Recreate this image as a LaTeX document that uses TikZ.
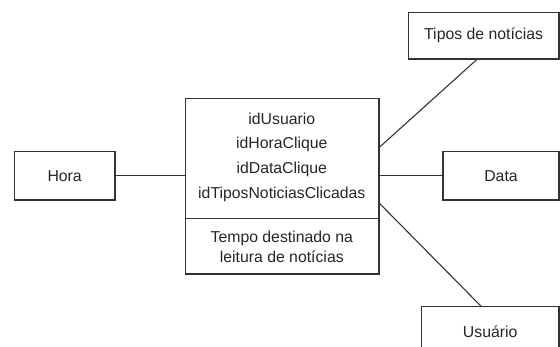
\documentclass[tikz,border=0pt]{standalone}
\usepackage{fontspec}
\setmainfont{Liberation Sans}
\begin{document}
\begin{tikzpicture}[x=1pt,y=-1pt,
  line/.style={draw=black!80,line width=1.1pt},
  entity/.style={line,rectangle,inner sep=0pt,text=black!85,font=\fontsize{15.8}{19.3}\selectfont},
  lbl/.style={inner sep=0pt,text=black!85,font=\fontsize{15.8}{19.3}\selectfont,align=center}]
\useasboundingbox (0,0) rectangle (560,347);
\clip (0,0) rectangle (560,347);

% fact table
\node[entity,minimum width=193.6pt,minimum height=175.3pt] (fact) at (282.2,186.35) {};
\draw[line] ([yshift=55.7pt]fact.south west) coordinate (dl) -- ([yshift=55.7pt]fact.south east) coordinate (dr);
\node[lbl] (k1) at (281.8,119.3) {idUsuario};
\node[lbl] (k2) at (281.8,144.3) {idHoraClique};
\node[lbl] (k3) at (281.8,169.3) {idDataClique};
\node[lbl] (k4) at (281.8,194.0) {idTiposNoticiasClicadas};
\node[lbl] (m1) at (281.8,247.0) {Tempo destinado na\\leitura de notícias};

% dimensions
\node[entity,minimum width=100.7pt,minimum height=48.3pt] (hora) at (64.65,175.85) {Hora};
\node[entity,minimum width=116pt,minimum height=48.3pt] (data) at (501,175.85) {Data};
\node[entity,minimum width=150.8pt,minimum height=46.7pt] (tipos) at (483.6,35.65) {Tipos de notícias};
\node[entity,minimum width=137.6pt,minimum height=50pt] (usuario) at (490.2,331.7) {Usuário};

% connectors
\draw[line] (hora.east) -- (hora.east -| fact.west);
\draw[line] (data.west -| fact.east) -- (data.west);
\draw[line] ([yshift=-49pt]fact.north east) -- ([xshift=-6.8pt]tipos.south);
\draw[line] ([yshift=-105.3pt]fact.north east) -- ([xshift=-9.2pt]usuario.north);
\end{tikzpicture}
\end{document}
